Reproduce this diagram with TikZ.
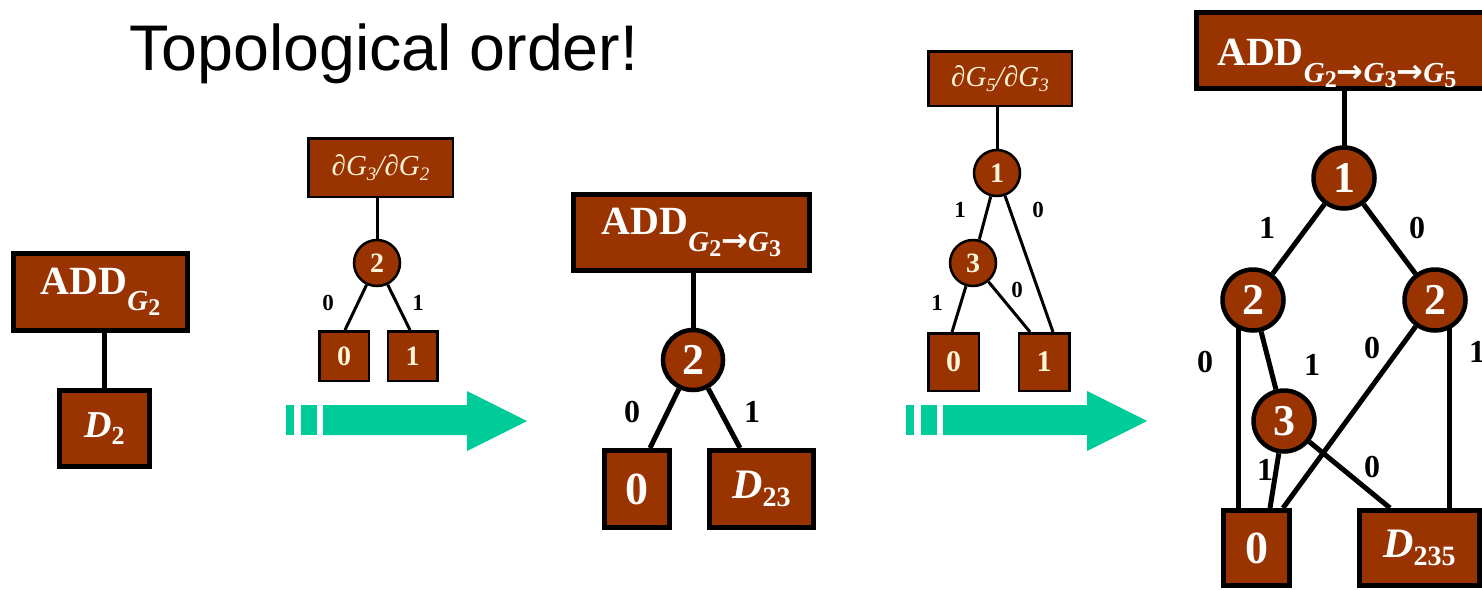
\documentclass[tikz,border=0pt]{standalone}
\usepackage{fontspec}
\setmainfont{Liberation Serif}
\newfontfamily\titlefont{Liberation Sans}
\newfontfamily\arrowfont{DejaVu Sans}
\usetikzlibrary{backgrounds}
\definecolor{bddfill}{HTML}{993300}
\definecolor{cream}{HTML}{FFF4D8}
\definecolor{flowgreen}{HTML}{00CC99}
\newcommand\fsz[1]{\fontsize{#1}{#1}\selectfont}
% subscript pieces of the ADD labels
\newcommand\subarrow{{\upshape\arrowfont\fsz{32}→}}
\newcommand\subg[1]{G\raisebox{-5pt}{\fsz{24}\upshape #1}}

\tikzset{
  bigbox/.style={draw=black, line width=5pt, fill=bddfill, text=white, inner sep=0pt, font=\bfseries},
  bigvar/.style={circle, draw=black, line width=4.5pt, fill=bddfill, text=white, inner sep=0pt, minimum size=60pt, font=\bfseries\fsz{44}},
  bigedge/.style={line width=5pt},
  biglbl/.style={font=\bfseries\fsz{32}, inner sep=0pt},
  smallbox/.style={draw=black, line width=2.5pt, fill=bddfill, text=cream, inner sep=0pt, font=\bfseries},
  smallvar/.style={circle, draw=black, line width=2.5pt, fill=bddfill, text=cream, inner sep=0pt, minimum size=46pt, font=\bfseries\fsz{28}},
  smalledge/.style={line width=3pt},
  smalllbl/.style={font=\bfseries\fsz{23}, inner sep=0pt},
  flowarrow/.style={fill=flowgreen, draw=none},
}

\begin{document}
\begin{tikzpicture}[x=1pt, y=-1pt]
\useasboundingbox (0,0) rectangle (1482,589);
\begin{scope}[on background layer]
  \fill[white] (0,0) rectangle (1482,589);
\end{scope}

% heading
\node[anchor=base west, inner sep=0pt, font=\titlefont\fsz{64.5}] (title) at (129,70) {Topological order!};

% ---- ADD of G2 ----
\node[bigbox, minimum width=174pt, minimum height=77pt] (addA) at (100.5,292)
  {{\fsz{40}ADD}\raisebox{-16pt}{\fsz{29}\itshape\subg{2}}};
\node[bigbox, minimum width=90pt, minimum height=76pt, font=\bfseries\fsz{38}] (d2) at (104.5,428.5)
  {{\itshape D}\raisebox{-7pt}{\fsz{26}2}};

% ---- derivative dG3/dG2 ----
\node[smallbox, minimum width=144.5pt, minimum height=58.5pt, font=\mdseries\fsz{29}] (s1top) at (380.5,167.5)
  {\itshape ∂G\raisebox{-5pt}{\fsz{19}3}/∂G\raisebox{-5pt}{\fsz{19}2}};
\node[smallvar] (s1c) at (377,263) {2};
\node[smallbox, minimum width=49.5pt, minimum height=49.5pt, font=\bfseries\fsz{28}] (s1l0) at (344,356) {0};
\node[smallbox, minimum width=49.5pt, minimum height=49.5pt, font=\bfseries\fsz{28}] (s1l1) at (412.5,356) {1};
\node[smalllbl] (s1e0) at (328,303) {0};
\node[smalllbl] (s1e1) at (418,303) {1};

% ---- ADD of G2 -> G3 ----
\node[bigbox, minimum width=236pt, minimum height=76pt] (addB) at (691.5,232.5)
  {{\fsz{40}ADD}\raisebox{-17pt}{\fsz{29}\itshape\subg{2}\subarrow\subg{3}}};
\node[bigvar] (b2) at (693,360) {2};
\node[bigbox, minimum width=65pt, minimum height=77pt, font=\bfseries\fsz{46}] (bl0) at (637,489) {0};
\node[bigbox, minimum width=104pt, minimum height=77pt, font=\bfseries\fsz{42}] (bd23) at (761.5,489)
  {{\itshape D}\raisebox{-8pt}{\fsz{28}23}};
\node[biglbl] (be0) at (632,412) {0};
\node[biglbl] (be1) at (752,412) {1};

% ---- derivative dG5/dG3 ----
\node[smallbox, minimum width=143.5pt, minimum height=54.5pt, font=\mdseries\fsz{29}] (s2top) at (1000,78.5)
  {\itshape ∂G\raisebox{-5pt}{\fsz{19}5}/∂G\raisebox{-5pt}{\fsz{19}3}};
\node[smallvar] (s2c1) at (997,173) {1};
\node[smallvar] (s2c3) at (973,263) {3};
\node[smallbox, minimum width=50.5pt, minimum height=57.5pt, font=\bfseries\fsz{30}] (s2l0) at (953.5,362) {0};
\node[smallbox, minimum width=50.5pt, minimum height=57.5pt, font=\bfseries\fsz{30}] (s2l1) at (1044,362) {1};
\node[smalllbl] (s2e1a) at (960,210) {1};
\node[smalllbl] (s2e0a) at (1038,210) {0};
\node[smalllbl] (s2e0b) at (1017,290) {0};
\node[smalllbl] (s2e1b) at (937,303) {1};

% ---- ADD of G2 -> G3 -> G5 ----
\node[bigbox, minimum width=320pt, minimum height=76pt, anchor=west] (addC) at (1193.5,50.5) {};
\node[anchor=base west, inner sep=0pt, text=white, font=\bfseries] (addCtext) at (1217,65)
  {{\fsz{40}ADD}\raisebox{-17pt}{\fsz{29}\itshape\subg{2}\subarrow\subg{3}\subarrow\subg{5}}};
\node[bigvar, minimum size=61pt] (c1) at (1344,178) {1};
\node[bigvar, minimum size=61pt] (c2l) at (1253,300) {2};
\node[bigvar, minimum size=61pt] (c2r) at (1435,300) {2};
\node[bigvar, minimum size=61pt] (c3) at (1284,421) {3};
\node[bigbox, minimum width=66pt, minimum height=75pt, font=\bfseries\fsz{46}] (cl0) at (1256.5,548) {0};
\node[bigbox, minimum width=120pt, minimum height=75pt, font=\bfseries\fsz{42}] (cd) at (1419.5,548)
  {{\itshape D}\raisebox{-8pt}{\fsz{28}235}};
\node[biglbl] (ce1a) at (1267,228) {1};
\node[biglbl] (ce0a) at (1417,228) {0};
\node[biglbl] (ce0b) at (1205,362) {0};
\node[biglbl] (ce1b) at (1312,365) {1};
\node[biglbl] (ce0c) at (1372,348) {0};
\node[biglbl] (ce1c) at (1477,352) {1};
\node[biglbl] (ce1d) at (1265,470) {1};
\node[biglbl] (ce0d) at (1372,467) {0};

% connectors, kept behind the nodes
\begin{scope}[on background layer]
  \draw[bigedge] (d2.north) -- (d2.north |- addA.south);

  \draw[smalledge] (s1c.center) -- (s1c.center |- s1top.south);
  \draw[smalledge] (s1c) -- ([xshift=1pt]s1l0.north);
  \draw[smalledge] (s1c) -- ([xshift=-2.5pt]s1l1.north);

  \draw[bigedge] (b2.center) -- (b2.center |- addB.south);
  \draw[bigedge] (b2) -- ([xshift=13pt]bl0.north);
  \draw[bigedge] (b2) -- ([xshift=-21.5pt]bd23.north);

  \draw[smalledge] (s2c1.center) -- (s2c1.center |- s2top.south);
  \draw[smalledge] (s2c1) -- (s2c3);
  \draw[smalledge] (s2c1) -- ([xshift=9pt]s2l1.north);
  \draw[smalledge] (s2c3) -- ([xshift=-1.5pt]s2l0.north);
  \draw[smalledge] (s2c3) -- ([xshift=-14pt]s2l1.north);

  \draw[bigedge] (c1.center) -- (c1.center |- addC.south);
  \draw[bigedge] (c1) -- (c2l);
  \draw[bigedge] (c1) -- (c2r);
  \draw[bigedge] ([xshift=-15pt]c2l.center) -- ([xshift=-15pt]c2l.center |- cl0.north);
  \draw[bigedge] (c2l) -- (c3);
  \draw[bigedge] (c2r) -- ([xshift=26.5pt]cl0.north);
  \draw[bigedge] ([xshift=14pt]c2r.center) -- ([xshift=14pt]c2r.center |- cd.north);
  \draw[bigedge] (c3) -- ([xshift=13.5pt]cl0.north);
  \draw[bigedge] (c3) -- ([xshift=-29.5pt]cd.north);
\end{scope}

% the two flow arrows
\foreach \dx in {0,620} {
  \begin{scope}[xshift=\dx pt]
    \fill[flowarrow] (286,405) rectangle (294,435);
    \fill[flowarrow] (301,405) rectangle (317,435);
    \fill[flowarrow] (323,405) -- (467,405) -- (467,391) -- (527,421) -- (467,451) -- (467,435) -- (323,435) -- cycle;
  \end{scope}
}
\end{tikzpicture}
\end{document}
